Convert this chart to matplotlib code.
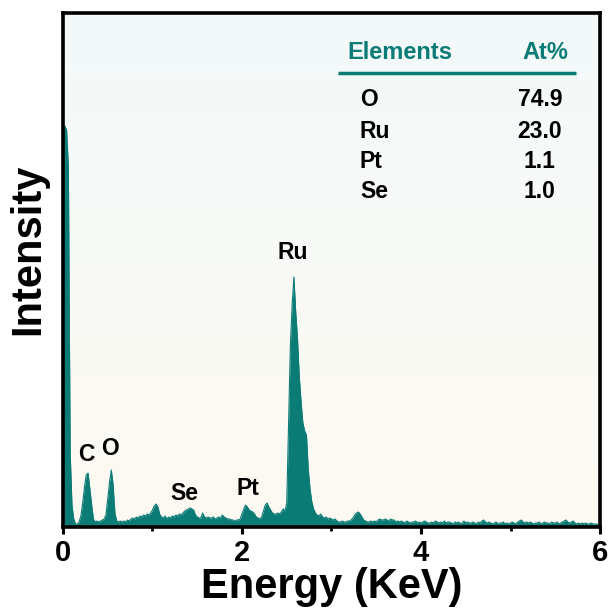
import numpy as np
import matplotlib
matplotlib.use('Agg')
import matplotlib.pyplot as plt
from matplotlib.colors import LinearSegmentedColormap

# ---- data ----
energy_step = 0.02  # keV spacing of the channels below
counts = [
    401, 401, 397, 360, 75, 22, 8, 3, 3, 5,        # 0.00-0.18
    11, 24, 40, 52, 54, 38, 22, 8, 5, 6,           # 0.20-0.38
    5, 6, 7, 8, 12, 28, 45, 57, 42, 14,            # 0.40-0.58
    6, 5, 6, 5, 6, 5, 7, 6, 8, 9,                  # 0.60-0.78
    8, 10, 9, 11, 10, 12, 11, 13, 12, 14,          # 0.80-0.98
    17, 21, 23, 20, 13, 10, 9, 11, 8, 10,          # 1.00-1.18
    9, 11, 10, 12, 11, 13, 12, 14, 16, 17,         # 1.20-1.38
    18, 19, 18, 17, 12, 10, 9, 9, 14, 10,          # 1.40-1.58
    9, 10, 9, 9, 10, 8, 9, 10, 9, 12,              # 1.60-1.78
    10, 9, 8, 8, 7, 7, 6, 7, 7, 8,                 # 1.80-1.98
    13, 18, 22, 20, 17, 16, 15, 13, 10, 9,         # 2.00-2.18
    8, 10, 16, 22, 24, 20, 17, 14, 13, 13,         # 2.20-2.38
    14, 13, 15, 18, 16, 24, 100, 180, 222, 250,    # 2.40-2.58
    215, 188, 150, 125, 104, 96, 92, 58, 38, 25,   # 2.60-2.78
    18, 14, 12, 11, 13, 10, 9, 10, 8, 9,           # 2.80-2.98
    8, 7, 8, 6, 5, 5, 6, 5, 5, 6,                  # 3.00-3.18
    6, 7, 9, 12, 14, 15, 13, 10, 7, 6,             # 3.20-3.38
    5, 5, 6, 5, 6, 5, 7, 8, 7, 7,                  # 3.40-3.58
    8, 7, 6, 8, 7, 7, 5, 6, 5, 6,                  # 3.60-3.78
    5, 4, 6, 5, 4, 5, 5, 6, 4, 5,                  # 3.80-3.98
    4, 5, 6, 5, 4, 4, 5, 4, 6, 5,                  # 4.00-4.18
    4, 5, 4, 6, 4, 5, 5, 4, 3, 5,                  # 4.20-4.38
    4, 5, 3, 4, 6, 4, 5, 4, 4, 5,                  # 4.40-4.58
    4, 3, 5, 4, 6, 7, 5, 4, 5, 4,                  # 4.60-4.78
    3, 4, 5, 3, 4, 4, 5, 3, 4, 3,                  # 4.80-4.98
    4, 5, 4, 3, 5, 6, 7, 5, 4, 5,                  # 5.00-5.18
    4, 5, 4, 3, 4, 4, 5, 3, 4, 5,                  # 5.20-5.38
    4, 4, 3, 5, 4, 4, 5, 3, 4, 5,                  # 5.40-5.58
    6, 7, 5, 4, 5, 6, 4, 3, 4, 3,                  # 5.60-5.78
    4, 3, 4, 3, 3, 4, 3, 3, 3, 2,                  # 5.80-5.98
    3,                                             # 6.00
]
energy = np.arange(len(counts)) * energy_step

peak_labels = ['C', 'O', 'Se', 'Pt', 'Ru']
peak_x = [0.257, 0.53, 1.36, 2.07, 2.57]
peak_y = [72, 78, 33, 38, 274]

table_elements = ['O', 'Ru', 'Pt', 'Se']
table_at = ['74.9', '23.0', '1.1', '1.0']

x_major = [0, 2, 4, 6]
x_minor = [1, 3, 5]

# ---- styling ----
plt.rcParams['font.family'] = ['Liberation Sans', 'DejaVu Sans']
plt.rcParams['font.weight'] = 'bold'
teal = '#0b7b76'

fig = plt.figure(figsize=(6.11, 6.15), dpi=100)
fig.patch.set_facecolor('white')
ax = fig.add_axes([0.1031, 0.1431, 0.8789, 0.8358])

# subtle background gradient (cyan-white top -> beige-white bottom)
cmap = LinearSegmentedColormap.from_list('bg', ['#fdf9f2', '#f3fafa'])
grad = np.linspace(0, 1, 256).reshape(-1, 1)
ax.imshow(grad, extent=[0, 1, 0, 1], transform=ax.transAxes, aspect='auto',
          cmap=cmap, origin='lower', zorder=0)

ax.fill_between(energy, counts, 0, color=teal, lw=0, zorder=2)
ax.plot(energy, counts, color=teal, lw=0.8, zorder=2)

ax.set_xlim(0, 6)
ax.set_ylim(0, 514)

for lab, xx, yy in zip(peak_labels, peak_x, peak_y):
    ax.text(xx, yy, lab, ha='center', va='center', fontsize=16.5,
            fontweight='bold', color='black', zorder=3)

# table
ax.text(0.529, 0.924, 'Elements', transform=ax.transAxes, ha='left',
        va='center', fontsize=17, fontweight='bold', color=teal)
ax.text(0.899, 0.924, 'At%', transform=ax.transAxes, ha='center',
        va='center', fontsize=17, fontweight='bold', color=teal)
ax.plot([0.512, 0.955], [0.883, 0.883], transform=ax.transAxes,
        color=teal, lw=2.5, solid_capstyle='butt')
row_y = [0.831, 0.770, 0.712, 0.652]
for el, at, yy in zip(table_elements, table_at, row_y):
    ax.text(0.553, yy, el, transform=ax.transAxes, ha='left', va='center',
            fontsize=16.5, fontweight='bold', color='black')
    ax.text(0.888, yy, at, transform=ax.transAxes, ha='center', va='center',
            fontsize=16.5, fontweight='bold', color='black')

ax.set_xticks(x_major)
ax.set_xticklabels([str(v) for v in x_major])
ax.set_xticks(x_minor, minor=True)
ax.set_yticks([])
ax.tick_params(axis='x', which='major', direction='out', length=5, width=2.2,
               labelsize=21, pad=4)
ax.tick_params(axis='x', which='minor', direction='out', length=3, width=2)
for lab in ax.get_xticklabels():
    lab.set_fontweight('bold')
for sp in ax.spines.values():
    sp.set_linewidth(2.6)
    sp.set_color('black')
    sp.set_zorder(4)

ax.set_xlabel('Energy (KeV)', fontsize=30, fontweight='bold', labelpad=0)
ax.set_ylabel('Intensity', fontsize=30, fontweight='bold')
ax.yaxis.set_label_coords(-0.028, 0.54)

fig.savefig('out.png', dpi=100)
